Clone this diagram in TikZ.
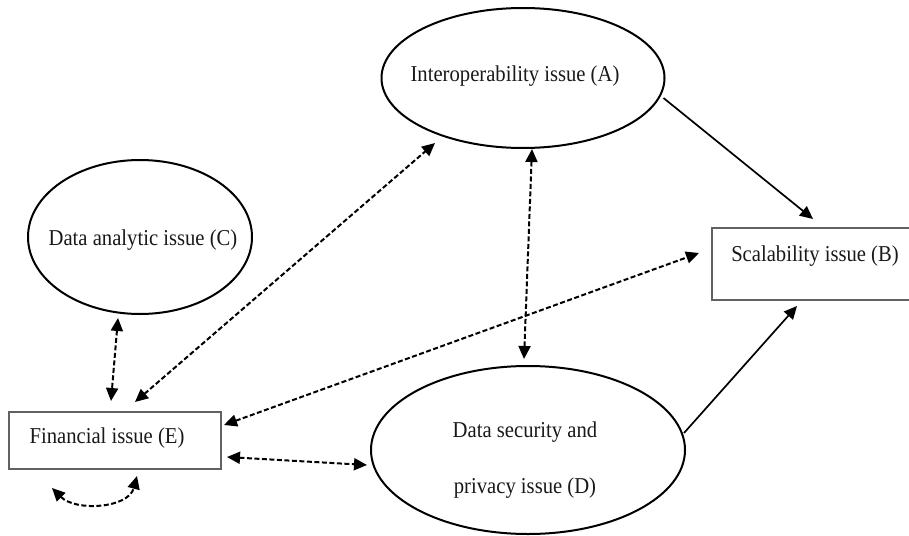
\documentclass[tikz,border=0pt]{standalone}
\usepackage{fontspec}
\setmainfont{Liberation Serif}[FakeStretch=0.91]
\usetikzlibrary{shapes.geometric,arrows.meta,calc}

\tikzset{
  issueoval/.style={ellipse, draw=black, line width=2pt, inner sep=0pt},
  issuebox/.style={rectangle, draw=black!62, line width=2pt, inner sep=0pt},
  caption/.style={inner sep=0pt, text=black!90, font=\fontsize{22.7}{26}\selectfont},
  tip/.style={-{Triangle[length=13pt,width=12pt]}},
  twotip/.style={{Triangle[length=13pt,width=12pt]}-{Triangle[length=13pt,width=12pt]}},
  linkdash/.style={twotip, line width=2pt, dash pattern=on 5pt off 2.5pt},
  linksolid/.style={tip, line width=1.7pt}
}

\begin{document}
\begin{tikzpicture}[x=1pt, y=-1pt]
  \useasboundingbox (0,0) rectangle (909,535);
  \clip (0,0) rectangle (909,535);

  % issue shapes
  \node[issueoval, minimum width=283pt, minimum height=140pt] (A) at (523,78) {};
  \node[issuebox, minimum width=203pt, minimum height=72pt] (B) at (813.5,264) {};
  \node[issueoval, minimum width=224pt, minimum height=154pt] (C) at (140,237) {};
  \node[issueoval, minimum width=314pt, minimum height=168pt] (D) at (528,450) {};
  \node[issuebox, minimum width=212pt, minimum height=57pt] (E) at (115,440.5) {};

  % captions
  \node[caption] (Atext) at (515,76) {Interoperability issue (A)};
  \node[caption] (Btext) at (815,256) {Scalability issue (B)};
  \node[caption] (Ctext) at (143,240) {Data analytic issue (C)};
  \node[caption, align=center] (Dtext) at (525,460) {Data security and\\[30pt]privacy issue (D)};
  \node[caption] (Etext) at (107,438) {Financial issue (E)};

  % one-way links into B
  \draw[linksolid] ($(A.east)+(-2,20)$) -- ($(B.north)+(-0.5,-8)$);
  \draw[linksolid] ($(D.east)+(-2,-17)$) -- ($(B.south)+(-16.5,5)$);

  % two-way dashed links
  \draw[linkdash] ($(A.south)+(9,0)$) -- ($(D.north)+(-4,-6)$);
  \draw[linkdash] ($(E.north)+(20,-9)$) -- ($(A.south)+(-88,-6)$);
  \draw[linkdash] ($(E.east)+(2,-15.5)$) -- ($(B.west)+(-12,-11)$);
  \draw[linkdash] ($(E.east)+(5,16.5)$) -- ($(D.west)+(-3,15)$);
  \draw[linkdash] ($(C.south)+(-22,3)$) -- ($(E.north)+(-4,-10)$);

  % self link below E
  \draw[linkdash] ($(E.south)+(-63,18)$) to[out=-45, in=-105] ($(E.south)+(22,6)$);
\end{tikzpicture}
\end{document}
